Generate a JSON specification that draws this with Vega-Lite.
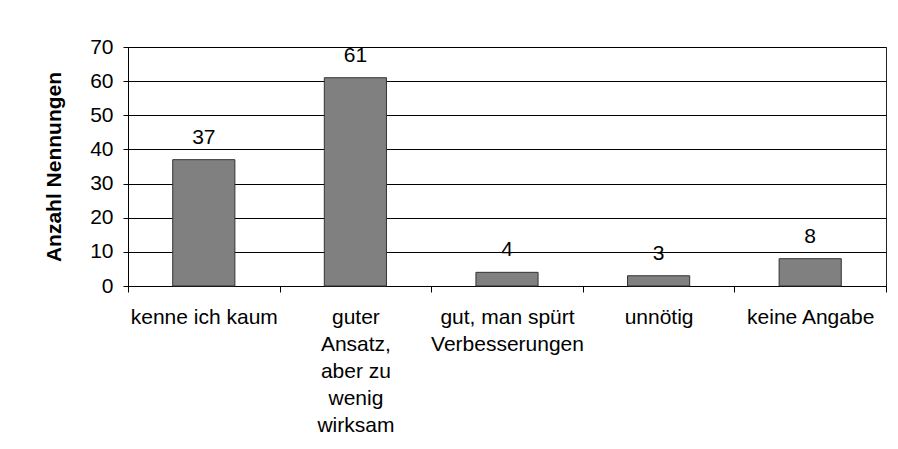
{
  "$schema": "https://vega.github.io/schema/vega-lite/v6.json",
  "autosize": "none",
  "width": 758,
  "height": 239,
  "padding": {"left": 128, "top": 47, "right": 12, "bottom": 163},
  "background": "white",
  "data": {
    "values": [
      {"kategorie": "kenne ich kaum", "label": "kenne ich kaum", "anzahl": 37},
      {"kategorie": "guter Ansatz, aber zu wenig wirksam", "label": "guter|Ansatz,|aber zu|wenig|wirksam", "anzahl": 61},
      {"kategorie": "gut, man spürt Verbesserungen", "label": "gut, man spürt|Verbesserungen", "anzahl": 4},
      {"kategorie": "unnötig", "label": "unnötig", "anzahl": 3},
      {"kategorie": "keine Angabe", "label": "keine Angabe", "anzahl": 8}
    ]
  },
  "encoding": {
    "x": {
      "field": "label",
      "type": "nominal",
      "sort": null,
      "scale": {"paddingInner": 0, "paddingOuter": 0},
      "axis": {
        "title": null,
        "labelAngle": 0,
        "labelExpr": "split(datum.label, '|')",
        "labelFont": "Liberation Sans",
        "labelFontSize": 21,
        "labelLineHeight": 27,
        "labelColor": "black",
        "labelPadding": 14,
        "labelBaseline": "top",
        "tickBand": "extent",
        "tickSize": 6,
        "tickColor": "black",
        "domainColor": "black",
        "grid": false
      }
    },
    "y": {
      "field": "anzahl",
      "type": "quantitative",
      "scale": {"domain": [0, 70], "nice": false},
      "axis": {
        "title": "Anzahl Nennungen",
        "titleFont": "Liberation Sans",
        "titleFontSize": 21,
        "titleFontWeight": "bold",
        "titleColor": "black",
        "titlePadding": 25,
        "values": [0, 10, 20, 30, 40, 50, 60, 70],
        "labelOverlap": false,
        "labelFont": "Liberation Sans",
        "labelFontSize": 21,
        "labelColor": "black",
        "labelPadding": 10,
        "tickSize": 5,
        "tickColor": "black",
        "domainColor": "black",
        "grid": true,
        "gridColor": "black",
        "gridOpacity": 1,
        "gridWidth": 1
      }
    }
  },
  "layer": [
    {
      "mark": {"type": "bar", "width": {"band": 0.41}, "fill": "#808080", "stroke": "#333333", "strokeWidth": 1}
    },
    {
      "mark": {"type": "text", "dy": -16, "baseline": "alphabetic", "font": "Liberation Sans", "fontSize": 21, "color": "black"},
      "encoding": {
        "text": {"field": "anzahl", "type": "quantitative"}
      }
    }
  ],
  "config": {
    "view": {"stroke": "#222222", "strokeWidth": 1}
  }
}
